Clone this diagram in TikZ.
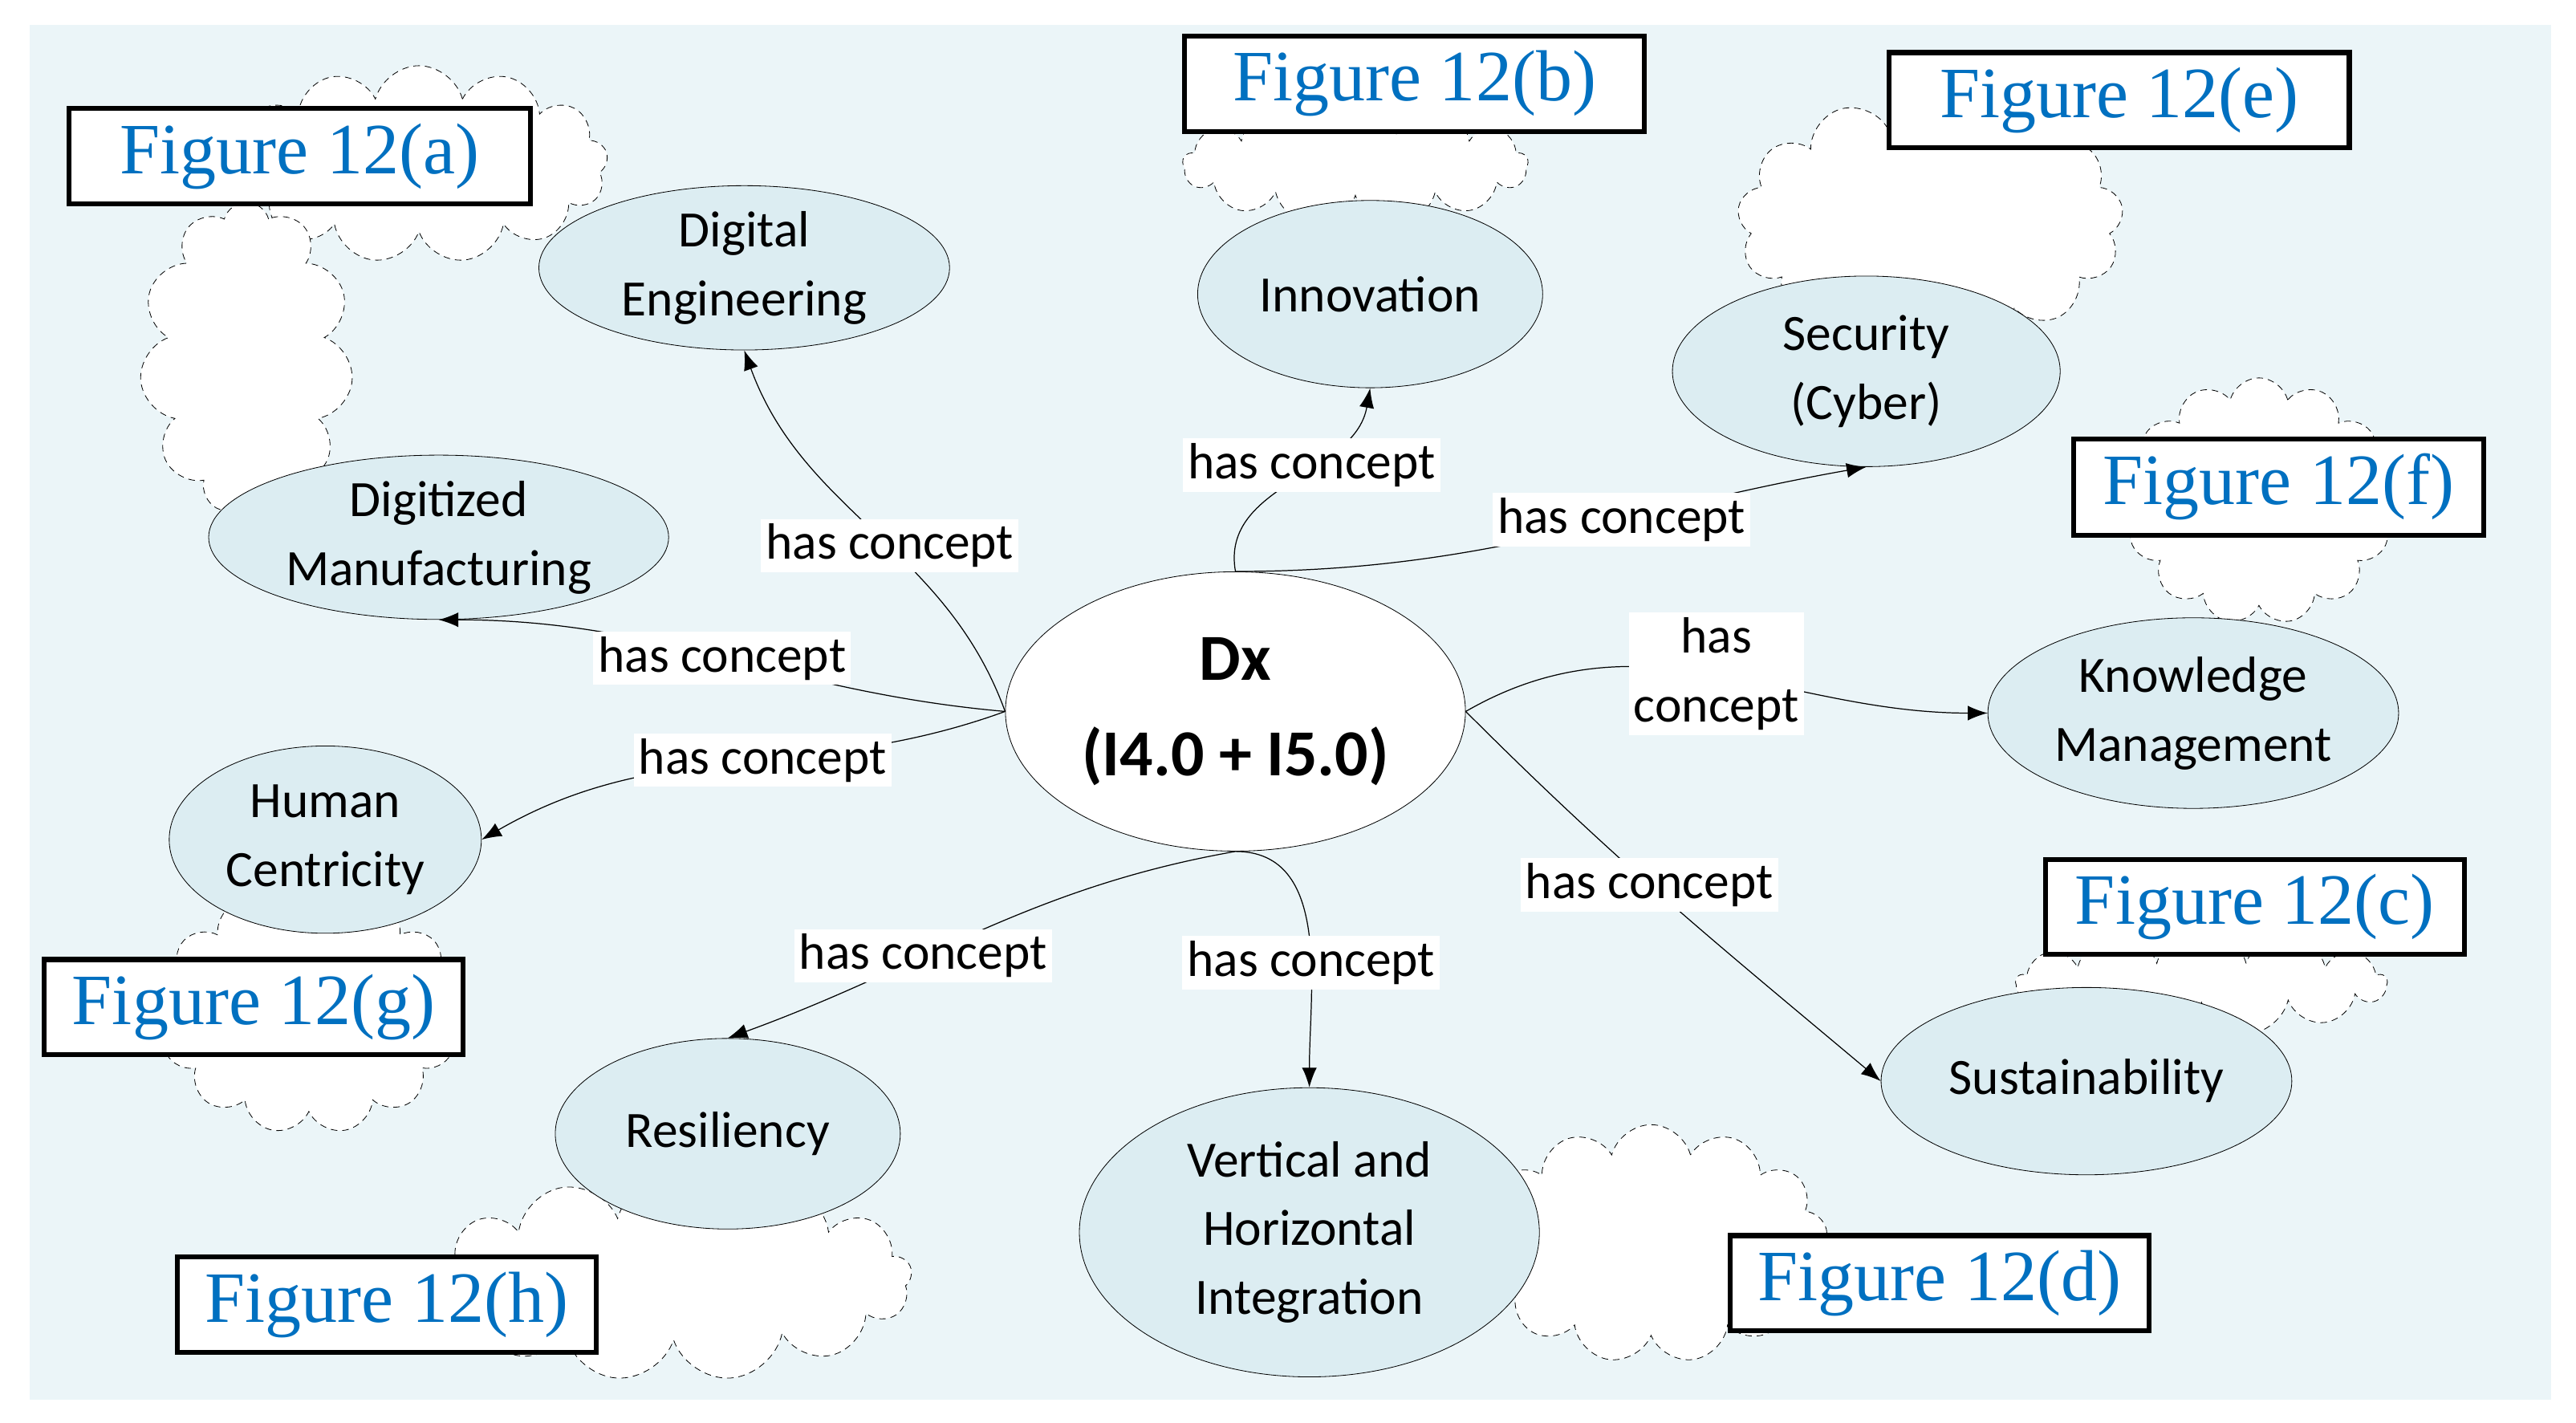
\documentclass[tikz,border=0pt]{standalone}
\usepackage{fontspec}
\setmainfont{Carlito}
\newfontfamily\figfont{Liberation Serif}
\usetikzlibrary{shapes.symbols,shapes.geometric,arrows.meta}
\definecolor{bgc}{HTML}{EBF5F8}
\definecolor{ellc}{HTML}{DCEDF2}
\definecolor{figblue}{HTML}{0070C0}
\begin{document}
\begin{tikzpicture}[x=1pt,y=-1pt,
  cl/.style={cloud, cloud puffs=13, draw=black, dash pattern=on 4pt off 3pt, fill=white, inner sep=0pt},
  con/.style={ellipse, draw, fill=ellc, align=center, inner sep=0pt, font=\fontsize{31}{42}\selectfont},
  fig/.style={draw, line width=3pt, fill=white, text=figblue, font=\figfont\fontsize{44}{46}\selectfont, inner sep=0pt},
  lbl/.style={fill=white, inner sep=3pt, font=\fontsize{31}{42}\selectfont, align=center},
  ar/.style={-{Latex[length=12pt,width=9pt]}, line width=0.6pt}]
\useasboundingbox (0,0) rectangle (1568,866);
\fill[white] (0,0) rectangle (1568,866);
\fill[bgc] (18,15) rectangle (1553,852);
% clouds
\node[cl, minimum width=230, minimum height=120] (ca1) at (255,100) {};
\node[cl, minimum width=130, minimum height=190, cloud puffs=11] (ca2) at (150,218) {};
\node[cl, minimum width=210, minimum height=75] (cb) at (825,100) {};
\node[cl, minimum width=235, minimum height=155] (ce) at (1175,135) {};
\node[cl, minimum width=165, minimum height=150] (cf) at (1375,305) {};
\node[cl, minimum width=225, minimum height=65] (cc) at (1340,598) {};
\node[cl, minimum width=215, minimum height=145] (cd) at (1005,757) {};
\node[cl, minimum width=185, minimum height=150] (cg) at (188,615) {};
\node[cl, minimum width=290, minimum height=125] (ch) at (410,778) {};
% figure boxes
\node[fig, minimum width=281, minimum height=58] (fa) at (182.5,95) {Figure 12(a)};
\node[fig, minimum width=280, minimum height=58] (fb) at (861,51) {Figure 12(b)};
\node[fig, minimum width=280, minimum height=58] (fe) at (1290,61) {Figure 12(e)};
\node[fig, minimum width=250, minimum height=59] (ff) at (1387,296.5) {Figure 12(f)};
\node[fig, minimum width=255, minimum height=58] (fc) at (1372.5,552) {Figure 12(c)};
\node[fig, minimum width=255, minimum height=58] (fd) at (1180.5,781) {Figure 12(d)};
\node[fig, minimum width=255, minimum height=58] (fg) at (154.5,613) {Figure 12(g)};
\node[fig, minimum width=255, minimum height=58] (fh) at (235.5,794) {Figure 12(h)};
% concepts
\node[con, minimum width=250, minimum height=100] (de) at (453,163) {Digital\\Engineering};
\node[con, minimum width=280, minimum height=100] (dm) at (267,327) {Digitized\\Manufacturing};
\node[con, minimum width=190, minimum height=114] (hc) at (198,511) {Human\\Centricity};
\node[con, minimum width=210, minimum height=116] (rs) at (443,690) {Resiliency};
\node[con, minimum width=280, minimum height=176] (vh) at (797,750) {Vertical and\\Horizontal\\Integration};
\node[con, minimum width=250, minimum height=114] (su) at (1270,658) {Sustainability};
\node[con, minimum width=250, minimum height=116] (km) at (1335,434) {Knowledge\\Management};
\node[con, minimum width=236, minimum height=116] (sc) at (1136,226) {Security\\(Cyber)};
\node[con, minimum width=210, minimum height=114] (in) at (834,179) {Innovation};
\node[con, fill=white, minimum width=280, minimum height=170, font=\bfseries\fontsize{40}{58}\selectfont] (dx) at (752,433) {Dx\\(I4.0 + I5.0)};
% connectors
\draw[ar] (dx.west) to[out=110,in=-70] node[lbl, pos=0.45] {has concept} (de.south);
\draw[ar] (dx.west) to[out=175,in=0] node[lbl, pos=0.5] {has concept} (dm.south);
\draw[ar] (dx.west) to[out=200,in=30] node[lbl, pos=0.45] {has concept} (hc.east);
\draw[ar] (dx.south) to[out=190,in=20] node[lbl, pos=0.62] {has concept} (rs.north);
\draw[ar] (dx.south) to[out=0,in=90] node[lbl, pos=0.6] {has concept} (vh.north);
\draw[ar] (dx.east) to[out=-45,in=140] node[lbl, pos=0.45] {has concept} (su.west);
\draw[ar] (dx.east) to[out=30,in=180] node[lbl, pos=0.5] {has\\concept} (km.west);
\draw[ar] (dx.north) to[out=0,in=190] node[lbl, pos=0.62] {has concept} (sc.south);
\draw[ar] (dx.north) to[out=100,in=-100] node[lbl, pos=0.6] {has concept} (in.south);
\end{tikzpicture}
\end{document}
